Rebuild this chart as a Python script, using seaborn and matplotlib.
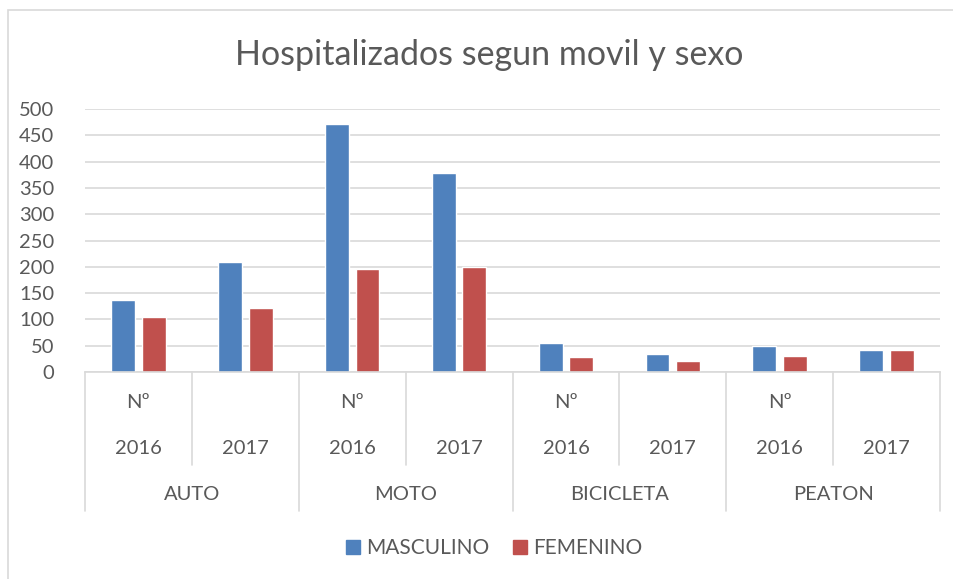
import matplotlib
matplotlib.use("Agg")
import matplotlib.pyplot as plt
import matplotlib.patches as mpatches
import seaborn as sns
import pandas as pd
import numpy as np

# ---- data ----
groups = ["AUTO", "MOTO", "BICICLETA", "PEATON"]
years = ["2016", "2017"]
sub_labels = ["Nº", ""]
masculino = [137, 209, 471, 378, 55, 34, 49, 42]
femenino = [104, 121, 195, 199, 28, 21, 31, 41]
series_names = ["MASCULINO", "FEMENINO"]
title = "Hospitalizados segun movil y sexo"
yticks = [0, 50, 100, 150, 200, 250, 300, 350, 400, 450, 500]

colors = ["#4f81bd", "#c0504d"]
text_color = "#595959"
grid_color = "#d9d9d9"

slots = [f"{g}-{y}" for g in groups for y in years]
df = pd.DataFrame({
    "slot": slots * 2,
    "value": masculino + femenino,
    "sexo": [series_names[0]] * len(slots) + [series_names[1]] * len(slots),
})

sns.set_theme(style="white")
plt.rcParams["font.family"] = ["Lato", "DejaVu Sans"]

W, H = 954, 579
fig = plt.figure(figsize=(W / 100, H / 100), dpi=100)
ax = fig.add_axes([85 / W, 1 - 372 / H, (940 - 85) / W, (372 - 109) / H])

sns.barplot(data=df, x="slot", y="value", hue="sexo", order=slots,
            hue_order=series_names, palette=colors, width=0.574, gap=0.22,
            saturation=1, ax=ax, legend=False)

ax.set_xlim(-0.5, len(slots) - 0.5)
ax.set_ylim(0, 500)
ax.set_yticks(yticks)
ax.set_yticklabels([str(t) for t in yticks], color=text_color, fontsize=14.5)
ax.tick_params(axis="y", length=0, pad=22)
ax.set_xticks([])
ax.set_xlabel("")
ax.set_ylabel("")
for s in ["top", "right", "left"]:
    ax.spines[s].set_visible(False)
ax.spines["bottom"].set_color(grid_color)
ax.spines["bottom"].set_linewidth(1.2)
ax.yaxis.grid(True, color=grid_color, linewidth=1.2)
ax.set_axisbelow(True)

# multi-level category axis
trans = ax.get_xaxis_transform()
def ypix(p):
    return (372 - p) / (372 - 109)

n = len(slots)
for i in range(n):
    sub = sub_labels[i % 2]
    if sub:
        ax.text(i, ypix(403), sub, transform=trans, ha="center", va="center",
                color=text_color, fontsize=14.5)
    ax.text(i, ypix(449), years[i % 2], transform=trans, ha="center", va="center",
            color=text_color, fontsize=14.5)
for gi, g in enumerate(groups):
    ax.text(gi * 2 + 0.5, ypix(494), g, transform=trans, ha="center", va="center",
            color=text_color, fontsize=14.5)

for b in range(n + 1):
    x = b - 0.5
    bottom = 511 if b % 2 == 0 else 465
    ax.plot([x, x], [0, ypix(bottom)], transform=trans, color=grid_color,
            linewidth=1.2, clip_on=False)

# title
fig.text(489 / W, 1 - 55 / H, title, ha="center", va="center",
         color=text_color, fontsize=24.5)

# legend
handles = [mpatches.Patch(color=c, label=l) for c, l in zip(colors, series_names)]
fig.legend(handles=handles, loc="center", bbox_to_anchor=(494 / W, 1 - 548 / H),
           ncol=2, frameon=False, fontsize=15, handlelength=0.65, handleheight=0.65,
           handletextpad=0.3, columnspacing=1.15, labelcolor=text_color)

# outer chart border
fig.patches.append(mpatches.Rectangle((8 / W, -0.1), 1.2, 1 - 10 / H + 0.1,
                                      transform=fig.transFigure, fill=False,
                                      edgecolor=grid_color, linewidth=1.2))

fig.savefig("out.png", dpi=100)
